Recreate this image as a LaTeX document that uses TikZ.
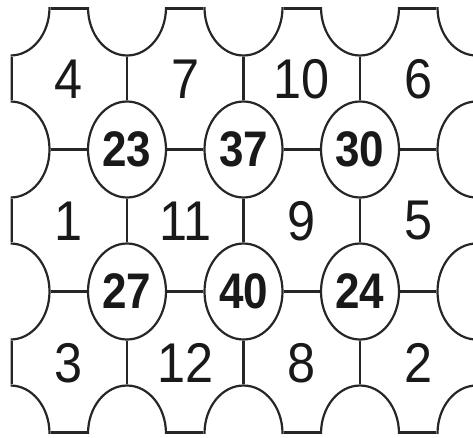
\documentclass[tikz,border=0pt]{standalone}
\usepackage{fontspec}
\setmainfont{Liberation Sans}
\usetikzlibrary{shapes.geometric}
\begin{document}
\begin{tikzpicture}[x=1pt,y=-1pt,
  vtx/.style={ellipse, draw=black!85, fill=white, minimum width=78pt, minimum height=96pt, inner sep=0pt, line width=2.2pt},
  lnk/.style={draw=black!85, line width=2.2pt},
  rim/.style={draw=black!85, line width=4.4pt},
  cellnum/.style={font=\fontsize{56}{56}\selectfont, text=black!90, inner sep=0pt},
  vnum/.style={font=\bfseries\fontsize{50}{50}\selectfont, text=black!90}]
\useasboundingbox (0,0) rectangle (473,437);
\begin{scope}
\clip (10.5,7.5) rectangle (476.5,433.5);
% boundary lattice points
\node[vtx] (v00) at (10.5,7.5) {};
\node[vtx] (v10) at (127,7.5) {};
\node[vtx] (v20) at (243.5,7.5) {};
\node[vtx] (v30) at (360,7.5) {};
\node[vtx] (v40) at (476.5,7.5) {};
\node[vtx] (v01) at (10.5,149.5) {};
\node[vtx] (v41) at (476.5,149.5) {};
\node[vtx] (v02) at (10.5,291.5) {};
\node[vtx] (v42) at (476.5,291.5) {};
\node[vtx] (v03) at (10.5,433.5) {};
\node[vtx] (v13) at (127,433.5) {};
\node[vtx] (v23) at (243.5,433.5) {};
\node[vtx] (v33) at (360,433.5) {};
\node[vtx] (v43) at (476.5,433.5) {};
% interior lattice points with numbers
\node[vtx,vnum] (v11) at (127,149.5) {\scalebox{0.88}[1]{23}};
\node[vtx,vnum] (v21) at (243.5,149.5) {\scalebox{0.88}[1]{37}};
\node[vtx,vnum] (v31) at (360,149.5) {\scalebox{0.88}[1]{30}};
\node[vtx,vnum] (v12) at (127,291.5) {\scalebox{0.88}[1]{27}};
\node[vtx,vnum] (v22) at (243.5,291.5) {\scalebox{0.88}[1]{40}};
\node[vtx,vnum] (v32) at (360,291.5) {\scalebox{0.88}[1]{24}};
% interior lines
\foreach \a/\b in {v10/v11, v11/v12, v12/v13, v20/v21, v21/v22, v22/v23,
                   v30/v31, v31/v32, v32/v33,
                   v01/v11, v11/v21, v21/v31, v31/v41,
                   v02/v12, v12/v22, v22/v32, v32/v42}
  \draw[lnk] (\a) -- (\b);
% outer rim
\foreach \a/\b in {v00/v10, v10/v20, v20/v30, v30/v40,
                   v03/v13, v13/v23, v23/v33, v33/v43,
                   v00/v01, v01/v02, v02/v03,
                   v40/v41, v41/v42, v42/v43}
  \draw[rim] (\a) -- (\b);
\end{scope}
% cell numbers
\node[cellnum] (c00) at (68.75,79) {\scalebox{0.9}[1]{4}};
\node[cellnum] (c10) at (185.25,79) {\scalebox{0.9}[1]{7}};
\node[cellnum] (c20) at (301.75,79) {\scalebox{0.9}[1]{10}};
\node[cellnum] (c30) at (418.25,79) {\scalebox{0.9}[1]{6}};
\node[cellnum] (c01) at (68.75,221) {\scalebox{0.9}[1]{1}};
\node[cellnum] (c11) at (185.25,221) {\scalebox{0.9}[1]{11}};
\node[cellnum] (c21) at (301.75,221) {\scalebox{0.9}[1]{9}};
\node[cellnum] (c31) at (418.25,221) {\scalebox{0.9}[1]{5}};
\node[cellnum] (c02) at (68.75,363) {\scalebox{0.9}[1]{3}};
\node[cellnum] (c12) at (185.25,363) {\scalebox{0.9}[1]{12}};
\node[cellnum] (c22) at (301.75,363) {\scalebox{0.9}[1]{8}};
\node[cellnum] (c32) at (418.25,363) {\scalebox{0.9}[1]{2}};
\end{tikzpicture}
\end{document}
